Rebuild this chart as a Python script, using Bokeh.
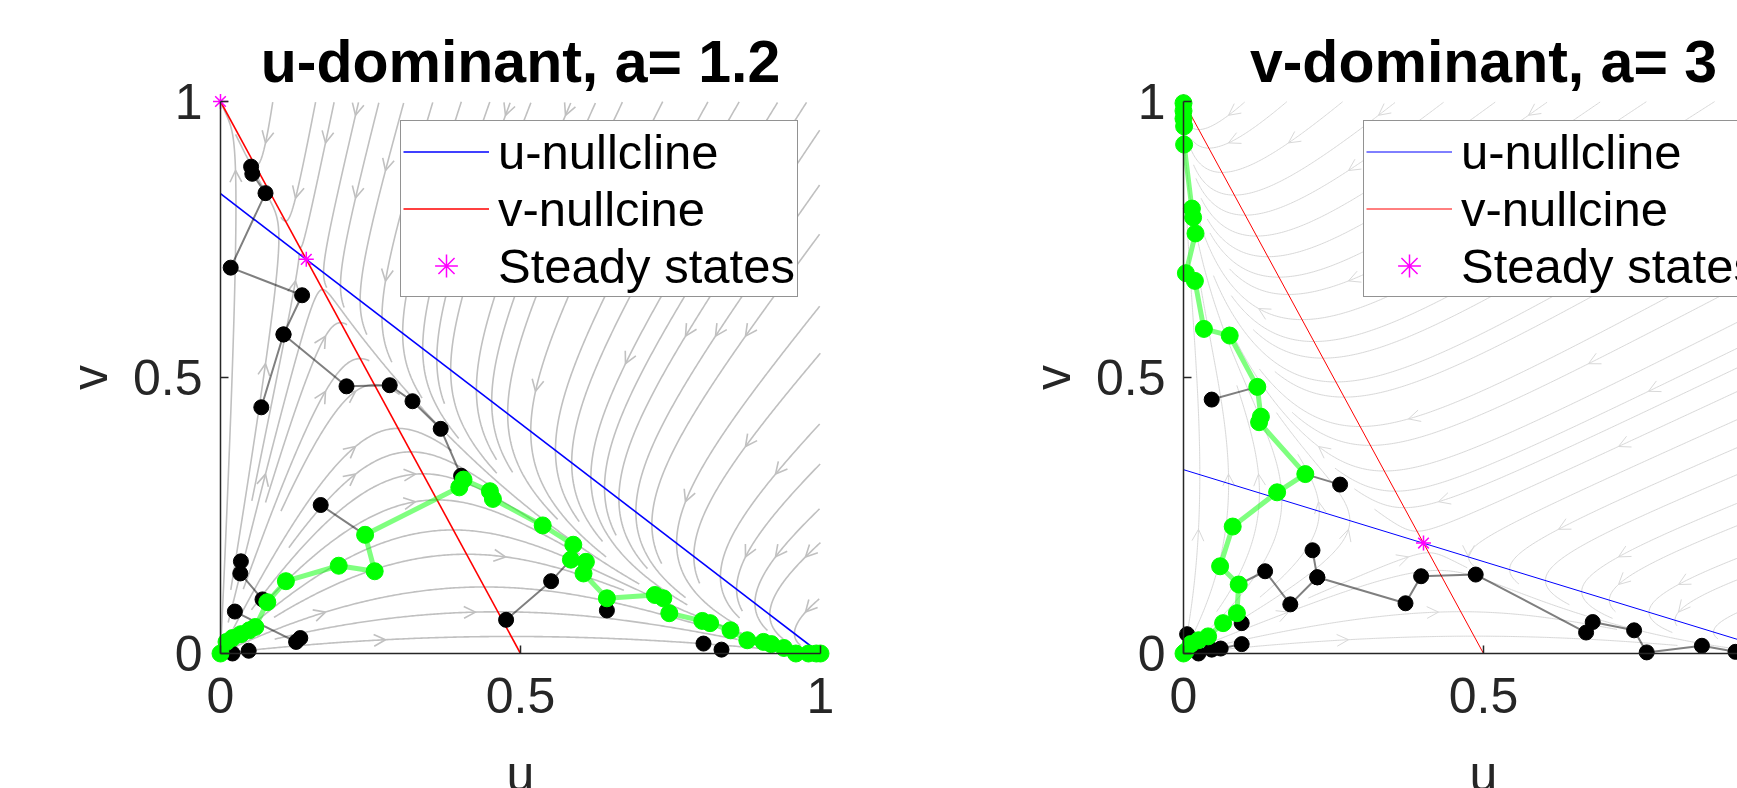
import math
import numpy as np
from bokeh.plotting import figure
from bokeh.models import Range1d, Legend, LegendItem, Label, FixedTicker, LinearAxis
from bokeh.layouts import row
from bokeh.embed import file_html
from bokeh.resources import INLINE

FONT = "Liberation Sans"
AX = "#262626"

# ---------------- data ----------------
left_title = "u-dominant, a= 1.2"
right_title = "v-dominant, a= 3"
left_a = 1.2
right_a = 3.0
b_coef = 2.0
tick_values = [0, 0.5, 1]
tick_labels = ["0", "0.5", "1"]
x_label = "u"
y_label = "v"
legend_labels = ["u-nullcline", "v-nullcine", "Steady states"]

left_unull_u = [0.0, 1.0]
left_unull_v = [0.833, 0.0]
left_vnull_u = [0.0, 0.5]
left_vnull_v = [1.0, 0.0]
left_ss_u = [0.0, 0.143, 1.0, 0.0]
left_ss_v = [1.0, 0.714, 0.0, 0.0]

left_green_u = [0.0, 0.010, 0.020, 0.034, 0.048, 0.058, 0.078, 0.109, 0.197, 0.257, 0.241,
                0.398, 0.405, 0.449, 0.454, 0.537, 0.588, 0.584, 0.609, 0.605, 0.644, 0.724,
                0.738, 0.748, 0.803, 0.816, 0.850, 0.878, 0.905, 0.918, 0.939, 0.959, 0.980,
                0.993, 1.0]
left_green_v = [0.0, 0.021, 0.028, 0.035, 0.042, 0.048, 0.093, 0.131, 0.159, 0.149, 0.215,
                0.301, 0.315, 0.294, 0.280, 0.232, 0.197, 0.170, 0.166, 0.145, 0.100, 0.106,
                0.100, 0.073, 0.059, 0.055, 0.042, 0.024, 0.021, 0.017, 0.010, 0.0, 0.0,
                0.0, 0.0]

left_black_u = [[0.068, 0.105, 0.136, 0.017, 0.075, 0.053, 0.051],
                [0.105, 0.210, 0.282, 0.320, 0.367, 0.401],
                [0.167, 0.241],
                [0.034, 0.033, 0.070],
                [0.024, 0.126, 0.133],
                [0.020, 0.047],
                [0.476, 0.551, 0.584],
                [0.644],
                [0.805],
                [0.835]]
left_black_v = [[0.446, 0.578, 0.649, 0.699, 0.834, 0.869, 0.882],
                [0.578, 0.484, 0.486, 0.457, 0.407, 0.322],
                [0.269, 0.215],
                [0.167, 0.145, 0.098],
                [0.076, 0.021, 0.028],
                [0.0, 0.005],
                [0.061, 0.131, 0.170],
                [0.078],
                [0.018],
                [0.007]]

right_unull_u = [0.0, 1.0]
right_unull_v = [0.333, 0.0]
right_vnull_u = [0.0, 0.5]
right_vnull_v = [1.0, 0.0]
right_ss_u = [0.0, 0.4, 1.0, 0.0]
right_ss_v = [1.0, 0.2, 0.0, 0.0]

right_green_u = [0.0, 0.003, 0.012, 0.025, 0.041, 0.066, 0.089, 0.092, 0.061, 0.082, 0.156,
                 0.203, 0.126, 0.129, 0.123, 0.077, 0.034, 0.019, 0.004, 0.020, 0.016, 0.014,
                 0.001, 0.001, 0.0, 0.0, 0.0]
right_green_v = [0.0, 0.003, 0.017, 0.024, 0.031, 0.055, 0.073, 0.125, 0.158, 0.230, 0.292,
                 0.325, 0.419, 0.429, 0.483, 0.576, 0.588, 0.675, 0.689, 0.761, 0.790, 0.806,
                 0.922, 0.955, 0.969, 0.983, 0.997]

right_black_u = [[0.047, 0.123],
                 [0.203, 0.261],
                 [0.092, 0.136, 0.178, 0.223, 0.215],
                 [0.223, 0.370, 0.396, 0.487, 0.671, 0.682, 0.751, 0.772, 0.864, 0.920],
                 [0.006, 0.025, 0.047, 0.062, 0.097],
                 [0.097]]
right_black_v = [[0.460, 0.483],
                 [0.325, 0.306],
                 [0.125, 0.149, 0.089, 0.138, 0.187],
                 [0.138, 0.091, 0.140, 0.143, 0.038, 0.057, 0.042, 0.002, 0.014, 0.003],
                 [0.035, 0.0, 0.007, 0.009, 0.017],
                 [0.055]]

# ---------------- layout constants (pixels) ----------------
PX_U = 600.0      # pixels per unit of u
PX_V = 552.0      # pixels per unit of v
CANVAS_H = 788
V0_PX = 653.0     # canvas y of v = 0
LEFT_W = 971
RIGHT_W = 766
LEFT_U0 = 220.0   # canvas x of u = 0 (left panel)
RIGHT_U0 = 212.0  # canvas x of u = 0 (right panel)


def vel(u, v, a):
    return u * (1 - u - a * v), v * (1 - v - b_coef * u)


def stream_field(a, num=20, fine=4, h=0.003, max_steps=1500):
    """Streamslice-like evenly spaced streamlines of the vector field."""
    ns, ne = num, num * fine
    start = np.zeros((ns, ns), bool)
    end = np.zeros((ne, ne), bool)
    order = sorted(((i, j) for i in range(ns) for j in range(ns)),
                   key=lambda ij: (((ij[0] * 7 + ij[1] * 13) % 17), ij))
    lines_x, lines_y, arr_x, arr_y = [], [], [], []
    for (i, j) in order:
        if start[i, j]:
            continue
        start[i, j] = True
        x0 = (i + 0.5) / ns
        y0 = (j + 0.5) / ns
        parts = []
        for sgn in (1, -1):
            x, y = x0, y0
            pts = [(x, y)]
            prev = (min(int(x * ne), ne - 1), min(int(y * ne), ne - 1))
            end[prev] = True
            same = 0
            for _ in range(max_steps):
                du, dv = vel(x, y, a)
                s = math.hypot(du, dv)
                if s < 1e-7:
                    break
                xm = x + 0.5 * h * sgn * du / s
                ym = y + 0.5 * h * sgn * dv / s
                du2, dv2 = vel(xm, ym, a)
                s2 = math.hypot(du2, dv2)
                if s2 < 1e-7:
                    break
                xn = x + h * sgn * du2 / s2
                yn = y + h * sgn * dv2 / s2
                if not (0 <= xn <= 1 and 0 <= yn <= 1):
                    break
                c = (min(int(xn * ne), ne - 1), min(int(yn * ne), ne - 1))
                if c != prev:
                    if end[c]:
                        break
                    end[c] = True
                    prev = c
                    same = 0
                else:
                    same += 1
                    if same > 40:
                        break
                x, y = xn, yn
                pts.append((x, y))
                start[min(int(x * ns), ns - 1), min(int(y * ns), ns - 1)] = True
            parts.append(pts)
        line = parts[1][::-1] + parts[0][1:]
        if len(line) < 4:
            continue
        lines_x.append([q[0] for q in line])
        lines_y.append([q[1] for q in line])
        if len(line) > 12:
            du, dv = vel(x0, y0, a)
            ex, ey = du * PX_U, dv * PX_V
            n = math.hypot(ex, ey)
            if n > 0:
                ex, ey = ex / n, ey / n
                L, t = 13.0, math.radians(27)
                bx, by = -ex, -ey
                w1 = (bx * math.cos(t) - by * math.sin(t), bx * math.sin(t) + by * math.cos(t))
                w2 = (bx * math.cos(t) + by * math.sin(t), -bx * math.sin(t) + by * math.cos(t))
                arr_x.append([x0 + L * w1[0] / PX_U, x0, x0 + L * w2[0] / PX_U])
                arr_y.append([y0 + L * w1[1] / PX_V, y0, y0 + L * w2[1] / PX_V])
    return lines_x, lines_y, arr_x, arr_y


def style_axis(ax, standoff):
    ax.axis_line_color = AX
    ax.axis_line_width = 1.5
    ax.major_tick_line_color = AX
    ax.major_tick_line_width = 1.5
    ax.major_tick_in = 8
    ax.major_tick_out = 0
    ax.minor_tick_line_color = None
    ax.major_label_text_font = FONT
    ax.major_label_text_font_size = "50px"
    ax.major_label_text_color = AX
    ax.major_label_standoff = standoff
    ax.axis_label_text_font = FONT
    ax.axis_label_text_font_size = "50px"
    ax.axis_label_text_font_style = "normal"
    ax.axis_label_text_color = AX


def make_panel(title, a, unull, vnull, ss, green, blacks, width, u0_px,
               stream_color, stream_width, null_width):
    x_start = -u0_px / PX_U
    x_end = (width - u0_px) / PX_U
    y_start = (V0_PX - CANVAS_H) / PX_V
    y_end = V0_PX / PX_V
    p = figure(width=width, height=CANVAS_H,
               x_range=Range1d(x_start, x_end), y_range=Range1d(y_start, y_end),
               output_backend="svg", toolbar_location=None,
               x_axis_location=None, y_axis_location=None,
               min_border=0, min_border_left=0, min_border_right=0,
               min_border_top=0, min_border_bottom=0)
    p.title.visible = False
    p.outline_line_color = None
    p.grid.visible = False
    p.background_fill_color = "white"

    overrides = {tv: tl for tv, tl in zip(tick_values, tick_labels)}
    xax = LinearAxis(fixed_location=0, bounds=(0, 1), ticker=FixedTicker(ticks=tick_values),
                     major_label_overrides=overrides)
    style_axis(xax, 24)
    p.add_layout(xax, "below")
    yax = LinearAxis(fixed_location=0, bounds=(0, 1), ticker=FixedTicker(ticks=tick_values),
                     major_label_overrides=overrides, axis_label=y_label)
    style_axis(yax, 18)
    yax.axis_label_standoff = 12
    p.add_layout(yax, "left")

    sx, sy, ax_, ay_ = stream_field(a)
    p.multi_line(sx, sy, line_color=stream_color, line_width=stream_width)
    p.multi_line(ax_, ay_, line_color=stream_color, line_width=stream_width)

    r_u = p.line(unull[0], unull[1], line_color="#0000ff", line_width=null_width)
    r_v = p.line(vnull[0], vnull[1], line_color="#ff0000", line_width=null_width)
    r_s = p.scatter(ss[0], ss[1], marker="asterisk", size=15, line_color="#ff00ff", line_width=1.5)

    bu, bv = blacks
    p.multi_line(bu, bv, line_color="black", line_alpha=0.5, line_width=2)
    p.scatter([x for seg in bu for x in seg], [y for seg in bv for y in seg],
              size=15, fill_color="black", line_color="black")
    p.line(green[0], green[1], line_color="#00ff00", line_alpha=0.5, line_width=5)
    p.scatter(green[0], green[1], size=17, fill_color="#00ff00", line_color="#00ff00")

    legend = Legend(items=[LegendItem(label=legend_labels[0], renderers=[r_u]),
                           LegendItem(label=legend_labels[1], renderers=[r_v]),
                           LegendItem(label=legend_labels[2], renderers=[r_s])],
                    location=(u0_px + 180, CANVAS_H - 297))
    legend.label_text_font = FONT
    legend.label_text_font_size = "49px"
    legend.label_text_color = "black"
    legend.glyph_width = 86
    legend.glyph_height = 57
    legend.label_height = 57
    legend.label_standoff = 9
    legend.padding = 2
    legend.spacing = 0
    legend.margin = 0
    legend.border_line_color = AX
    legend.border_line_width = 1.5
    legend.background_fill_color = "white"
    legend.background_fill_alpha = 1.0
    p.add_layout(legend, "center")

    p.add_layout(Label(x=0.5, y=1.0, y_offset=40, text=title, text_align="center",
                       text_baseline="alphabetic", text_font=FONT, text_font_size="59px",
                       text_font_style="bold", text_color="black"))
    p.add_layout(Label(x=0.5, y=0.0, y_offset=-120, text=x_label, text_align="center",
                       text_baseline="alphabetic", text_font=FONT, text_font_size="50px",
                       text_color=AX))
    return p


left = make_panel(left_title, left_a,
                  (left_unull_u, left_unull_v), (left_vnull_u, left_vnull_v),
                  (left_ss_u, left_ss_v), (left_green_u, left_green_v),
                  (left_black_u, left_black_v),
                  LEFT_W, LEFT_U0, "#c0c0c0", 1.6, 1.6)
right = make_panel(right_title, right_a,
                   (right_unull_u, right_unull_v), (right_vnull_u, right_vnull_v),
                   (right_ss_u, right_ss_v), (right_green_u, right_green_v),
                   (right_black_u, right_black_v),
                   RIGHT_W, RIGHT_U0, "#d8d8d8", 1.0, 1.0)

layout = row(left, right)
open("out.html", "w").write(file_html(layout, INLINE))
